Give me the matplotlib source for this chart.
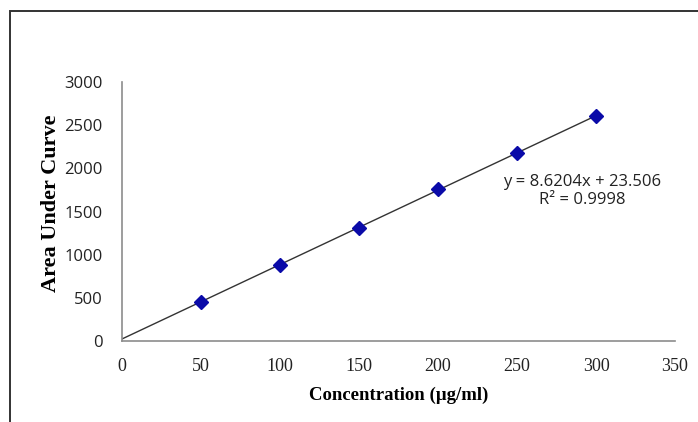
import matplotlib.pyplot as plt
from matplotlib.patches import Rectangle
import numpy as np

# calibration data
conc = [50, 100, 150, 200, 250, 300]
auc = [450, 875, 1310, 1765, 2172, 2605]
slope = 8.6204
intercept = 23.506
r2 = 0.9998

fig = plt.figure(figsize=(6.98, 4.22), dpi=100)
ax = fig.add_axes([122/698, 1 - 341/422, (675 - 122)/698, (341 - 82)/422])

# outer frame (cut off at right and bottom like the reference)
fig.patches.append(Rectangle((10/698, -0.2), 1.2, 1 - 11/422 + 0.2,
                             transform=fig.transFigure, fill=False,
                             edgecolor='#333333', linewidth=1.4))

xt = np.array([0, max(conc)])
ax.plot(xt, slope * xt + intercept, color='#333333', linewidth=1.0, zorder=2)
ax.plot(conc, auc, linestyle='none', marker='D', markersize=7,
        color='#0A0AA8', zorder=3)

ax.set_xlim(0, 350)
ax.set_ylim(0, 3000)
ax.set_xticks(range(0, 351, 50))
ax.set_yticks(range(0, 3001, 500))

for s in ['top', 'right']:
    ax.spines[s].set_visible(False)
for s in ['left', 'bottom']:
    ax.spines[s].set_color('#8c8c8c')
    ax.spines[s].set_linewidth(1.2)

ax.tick_params(axis='both', length=0)
ax.tick_params(axis='y', pad=14)
ax.tick_params(axis='x', pad=12)
for lab in ax.get_yticklabels():
    lab.set_fontfamily('Open Sans')
    lab.set_fontsize(12)
    lab.set_color('#222222')
for lab in ax.get_xticklabels():
    lab.set_fontfamily('Liberation Serif')
    lab.set_fontsize(13)
    lab.set_color('#222222')

ax.set_xlabel('Concentration (µg/ml)', fontfamily='Liberation Serif',
              fontweight='bold', fontsize=13.5, labelpad=9)
ax.set_ylabel('Area Under Curve', fontfamily='Liberation Serif',
              fontweight='bold', fontsize=16)
ax.yaxis.set_label_coords(-0.11, 0.531)

ax.text(0.832, 0.579, f'y = {slope}x + {intercept}\nR² = {r2}',
        transform=ax.transAxes, ha='center', va='center',
        multialignment='center', fontfamily='Open Sans', fontsize=12,
        color='#222222', linespacing=1.2)

fig.savefig('out.png', dpi=100)
